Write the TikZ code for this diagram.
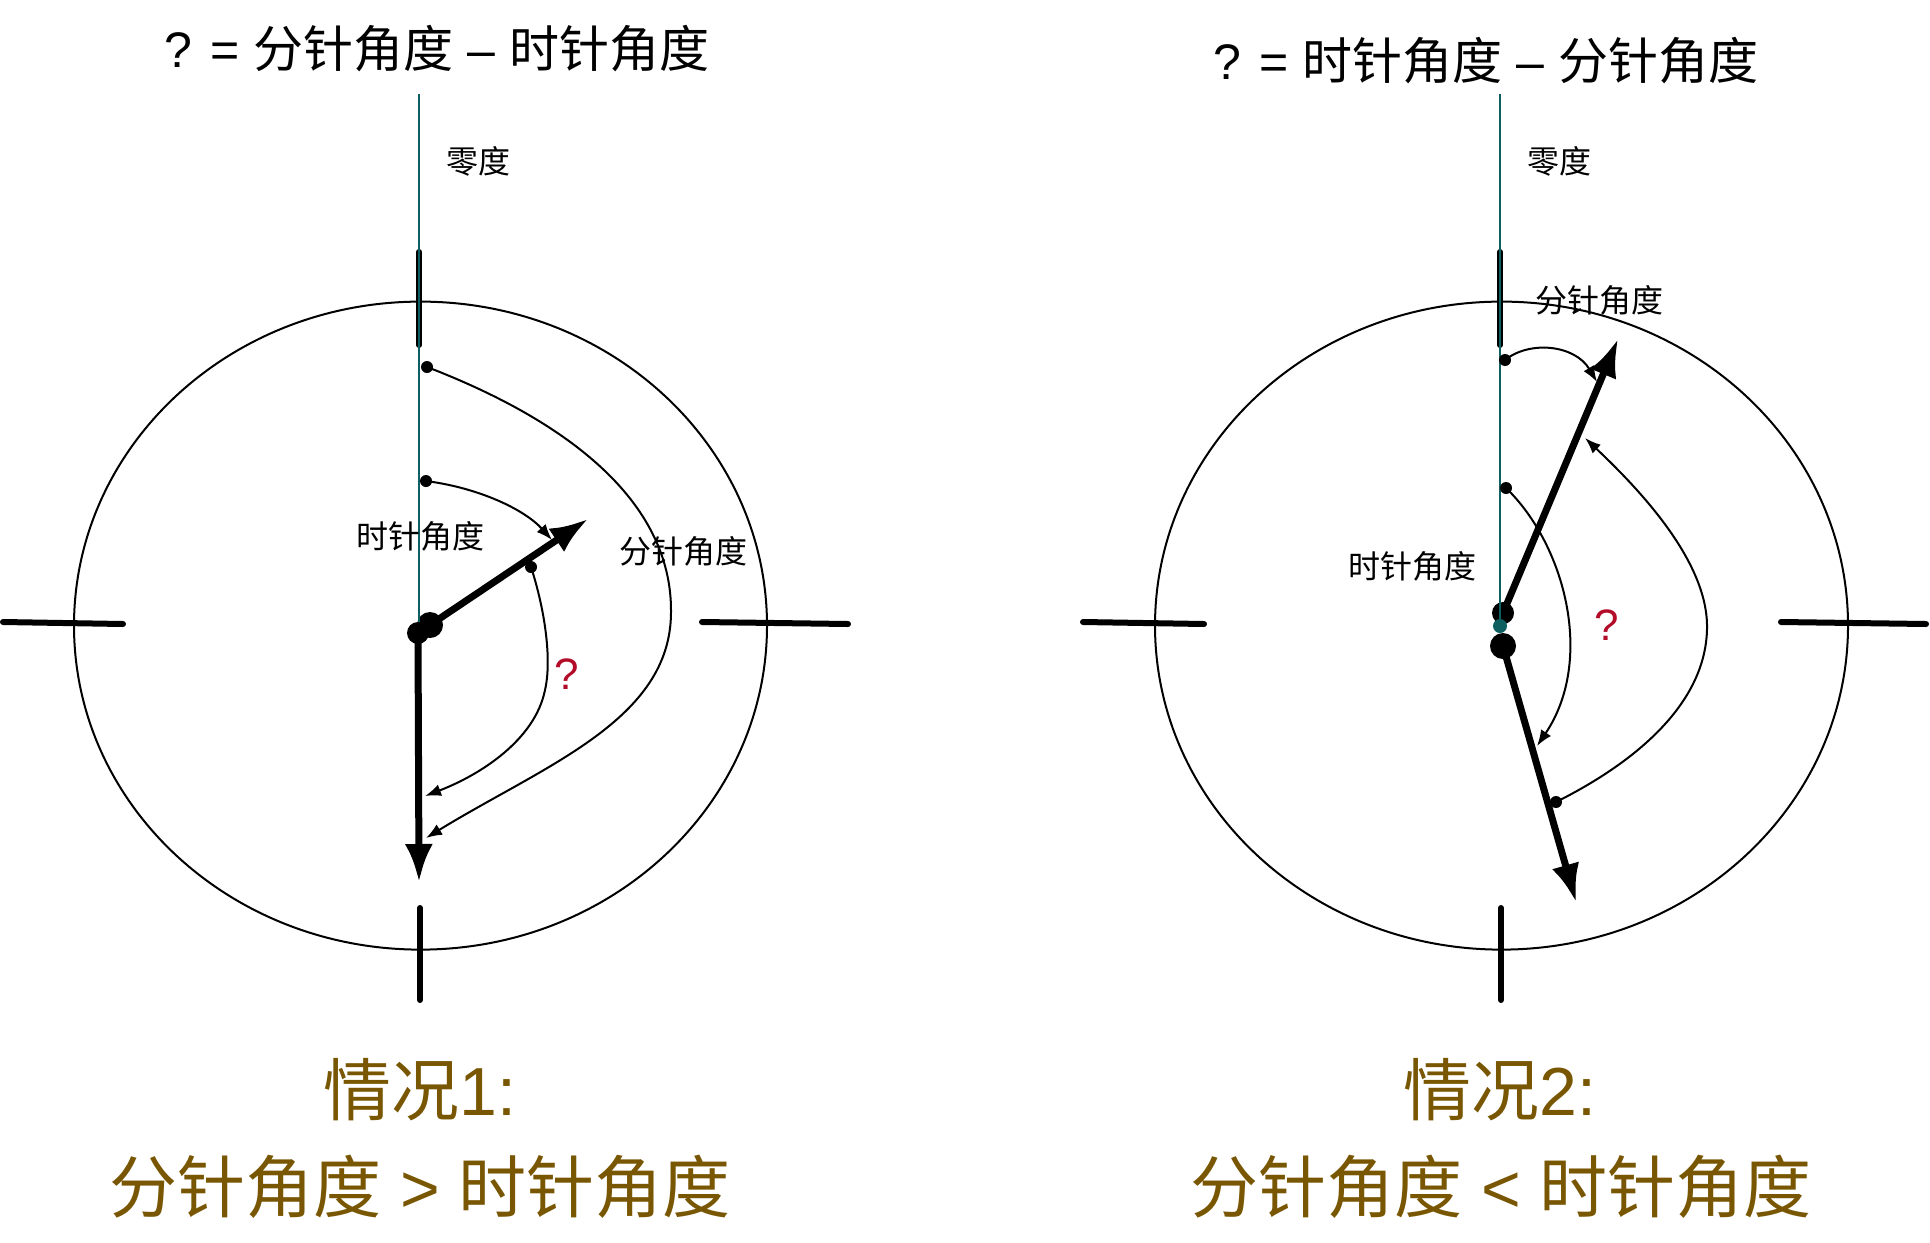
\documentclass[tikz,border=0pt]{standalone}
\usepackage{fontspec}
\setmainfont{Noto Sans CJK SC}
\newfontfamily\lat{Liberation Sans}
\usetikzlibrary{arrows.meta}
\definecolor{tealc}{RGB}{14,96,96}
\definecolor{qred}{RGB}{178,12,40}
\definecolor{capc}{RGB}{120,86,2}
\tikzset{
  clockring/.style={line width=1pt},
  tickmark/.style={line width=3pt, line cap=round},
  zeroline/.style={draw=tealc, line width=1pt},
  handarrow/.style={line width=3.5pt, -{Latex[length=19pt,width=14pt]}},
  anglearc/.style={line width=1pt, -{Latex[length=8pt,width=6pt]}},
  smalldot/.style={circle, fill=black, inner sep=0pt, minimum size=6pt},
  lbl/.style={inner sep=0pt, font=\fontsize{16pt}{19pt}\selectfont},
  ttl/.style={inner sep=0pt, font=\fontsize{25pt}{30pt}\selectfont},
  captxt/.style={inner sep=0pt, text=capc, font=\fontsize{34pt}{40pt}\selectfont},
  qmark/.style={inner sep=0pt, text=qred, font=\lat\fontsize{22pt}{26pt}\selectfont}
}
\begin{document}
\begin{tikzpicture}[x=0.5pt,y=-0.5pt]
\useasboundingbox (0,0) rectangle (1930,1242);

% ================= LEFT CLOCK =================
\draw[clockring] (420.5,625.6) ellipse [x radius=173.25pt, y radius=162pt];
\draw[tickmark] (419,252) -- (419,345);
\draw[tickmark] (420,908) -- (420,1000);
\draw[tickmark] (3,622) -- (123,624);
\draw[tickmark] (702,622) -- (848,624);

\coordinate (Lc1) at (418,633);
\coordinate (Lc2) at (430,625);
\coordinate (Lmin) at (419,882);
\coordinate (Lhr) at (588,519);
\coordinate (Ltop) at (419,94);
\coordinate (Lend) at (419,630);
\draw[handarrow] (Lc2) -- (Lhr);
\draw[handarrow] (Lc1) -- (Lmin);
\fill (Lc2) circle [radius=6.5pt];
\draw[zeroline] (Ltop) -- (Lend);
\fill (Lc1) circle [radius=5.5pt];

% angle arcs
\node[smalldot] (La) at (426,481) {};
\coordinate (Lae) at (552,540);
\draw[anglearc] (La.center) .. controls (480,488) and (525,510) .. (Lae);

\node[smalldot] (Lb) at (427,367) {};
\coordinate (Lbm) at (671,612);
\coordinate (Lbe) at (426,838);
\draw[anglearc] (Lb.center) .. controls (565,420) and (672,500) .. (Lbm)
  .. controls (671,720) and (545,765) .. (Lbe);

\node[smalldot] (Lq) at (531,567) {};
\coordinate (Lqm) at (545,690);
\coordinate (Lqe) at (425,796);
\draw[anglearc] (Lq.center) .. controls (545,610) and (552,660) .. (Lqm)
  .. controls (535,740) and (480,775) .. (Lqe);

% labels
\node[lbl] (Lzero) at (478,161) {零度};
\node[lbl] (Lhrlbl) at (420,536) {时针角度};
\node[lbl] (Lminlbl) at (683,551) {分针角度};
\node[qmark] (Lqmark) at (567,674) {?};
\node[ttl] (Ltitle) at (437,49) {{\lat ? = }分针角度{\lat{} – }时针角度};
\node[captxt] (Lcap1) at (420,1090) {情况{\lat 1:}};
\node[captxt] (Lcap2) at (420,1187) {分针角度{\lat{} > }时针角度};

% ================= RIGHT CLOCK =================
\draw[clockring] (1501.5,625.6) ellipse [x radius=173.25pt, y radius=162pt];
\draw[tickmark] (1500,252) -- (1500,345);
\draw[tickmark] (1501,908) -- (1501,1000);
\draw[tickmark] (1083,622) -- (1204,624);
\draw[tickmark] (1781,622) -- (1926,624);

\coordinate (Rc1) at (1503,613);
\coordinate (Rc2) at (1503,646);
\coordinate (Rmin) at (1618,339);
\coordinate (Rhr) at (1576,902);
\coordinate (Rtop) at (1500,94);
\coordinate (Rend) at (1500,626);
\draw[handarrow] (Rc1) -- (Rmin);
\draw[handarrow] (Rc2) -- (Rhr);
\fill (Rc1) circle [radius=5.5pt];
\fill (Rc2) circle [radius=6.5pt];
\draw[zeroline] (Rtop) -- (Rend);
\fill[tealc] (Rend) circle [radius=3.5pt];

% angle arcs
\node[smalldot] (Rd) at (1505,360) {};
\coordinate (Rde) at (1597,382);
\draw[anglearc] (Rd.center) .. controls (1530,340) and (1575,345) .. (Rde);

\node[smalldot] (Re) at (1506,488) {};
\coordinate (Ree) at (1537,746);
\draw[anglearc] (Re.center) .. controls (1565,545) and (1595,660) .. (Ree);

\node[smalldot] (Rf) at (1556,802) {};
\coordinate (Rfm) at (1707,625);
\coordinate (Rfe) at (1585,438);
\draw[anglearc] (Rf.center) .. controls (1640,760) and (1708,700) .. (Rfm)
  .. controls (1706,560) and (1640,490) .. (Rfe);

% labels
\node[lbl] (Rzero) at (1559,161) {零度};
\node[lbl] (Rminlbl) at (1599,300) {分针角度};
\node[lbl] (Rhrlbl) at (1412,566) {时针角度};
\node[qmark] (Rqmark) at (1607,625) {?};
\node[ttl] (Rtitle) at (1486,61) {{\lat ? = }时针角度{\lat{} – }分针角度};
\node[captxt] (Rcap1) at (1500,1090) {情况{\lat 2:}};
\node[captxt] (Rcap2) at (1501,1187) {分针角度{\lat{} < }时针角度};
\end{tikzpicture}
\end{document}
